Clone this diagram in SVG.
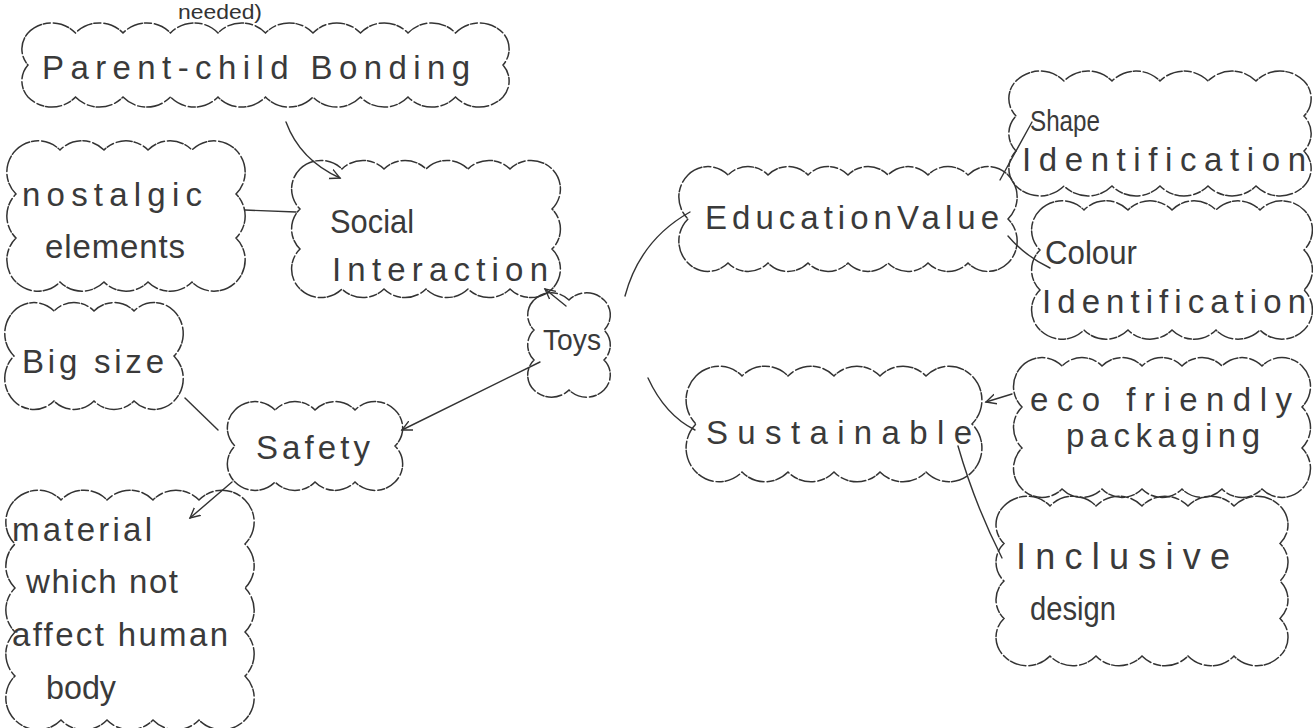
<svg xmlns="http://www.w3.org/2000/svg" width="1313" height="728" viewBox="0 0 1313 728">
<style>
.cloud{fill:none;stroke:#333;stroke-width:1.5;stroke-dasharray:16 2 7 3;stroke-linecap:round}
.lbl{font-family:"Liberation Sans",Arial,sans-serif;fill:#3a3a3a;font-size:33px}
.conn{fill:none;stroke:#333;stroke-width:1.4;stroke-linecap:round}
</style>
<defs>
<marker id="ah" markerWidth="14" markerHeight="14" refX="10" refY="6" orient="auto" markerUnits="userSpaceOnUse">
<path d="M0,1 L10,6 L0,11" fill="none" stroke="#333" stroke-width="1.4"/>
</marker>
</defs>
<rect width="1313" height="728" fill="#ffffff"/>
<text x="178" y="19" textLength="84" lengthAdjust="spacingAndGlyphs" style="font-family:'Liberation Sans',Arial,sans-serif;font-size:20px;fill:#333">needed)</text>

<g id="connectors">
<path class="conn" d="M286,122 Q300,160 340,178" marker-end="url(#ah)"/>
<path class="conn" d="M245,210 L296,212"/>
<path class="conn" d="M566,306 L545,289" marker-end="url(#ah)"/>
<path class="conn" d="M625,296 Q640,240 690,212"/>
<path class="conn" d="M1000,180 L1032,122"/>
<path class="conn" d="M1008,236 Q1025,256 1050,268"/>
<path class="conn" d="M648,378 Q665,415 695,430"/>
<path class="conn" d="M1012,394 L986,402" marker-end="url(#ah)"/>
<path class="conn" d="M958,446 Q975,505 1002,558"/>
<path class="conn" d="M540,362 L402,430" marker-end="url(#ah)"/>
<path class="conn" d="M185,398 L218,430"/>
<path class="conn" d="M232,482 L190,518" marker-end="url(#ah)"/>
</g>

<g id="parent-child">
<path class="cloud" d="M28,33 a33 33 0 0 1 47.5 0 a33 33 0 0 1 47.5 0 a33 33 0 0 1 47.5 0 a33 33 0 0 1 47.5 0 a33 33 0 0 1 47.5 0 a33 33 0 0 1 47.5 0 a33 33 0 0 1 47.5 0 a33 33 0 0 1 47.5 0 a33 33 0 0 1 47.5 0 a33 33 0 0 1 47.5 0 a24 24 0 0 1 0 32 a24 24 0 0 1 0 32 a33 33 0 0 1 -47.5 0 a33 33 0 0 1 -47.5 0 a33 33 0 0 1 -47.5 0 a33 33 0 0 1 -47.5 0 a33 33 0 0 1 -47.5 0 a33 33 0 0 1 -47.5 0 a33 33 0 0 1 -47.5 0 a33 33 0 0 1 -47.5 0 a33 33 0 0 1 -47.5 0 a33 33 0 0 1 -47.5 0 a24 24 0 0 1 0 -32 a24 24 0 0 1 0 -32 Z"/>
<text class="lbl" x="42" y="79" textLength="428" lengthAdjust="spacing">Parent-child Bonding</text>
</g>

<g id="nostalgic">
<path class="cloud" d="M16,150 a31 31 0 0 1 44 0 a31 31 0 0 1 44 0 a31 31 0 0 1 44 0 a31 31 0 0 1 44 0 a31 31 0 0 1 44 0 a31 31 0 0 1 0 44 a31 31 0 0 1 0 44 a31 31 0 0 1 0 44 a31 31 0 0 1 -44 0 a31 31 0 0 1 -44 0 a31 31 0 0 1 -44 0 a31 31 0 0 1 -44 0 a31 31 0 0 1 -44 0 a31 31 0 0 1 0 -44 a31 31 0 0 1 0 -44 a31 31 0 0 1 0 -44 Z"/>
<text class="lbl" x="22" y="206" textLength="180" lengthAdjust="spacing">nostalgic</text>
<text class="lbl" x="45" y="258" textLength="140" lengthAdjust="spacing">elements</text>
</g>

<g id="social">
<path class="cloud" d="M300,169 a30 30 0 0 1 42 0 a30 30 0 0 1 42 0 a30 30 0 0 1 42 0 a30 30 0 0 1 42 0 a30 30 0 0 1 42 0 a30 30 0 0 1 42 0 a28 28 0 0 1 0 40 a28 28 0 0 1 0 40 a28 28 0 0 1 0 40 a30 30 0 0 1 -42 0 a30 30 0 0 1 -42 0 a30 30 0 0 1 -42 0 a30 30 0 0 1 -42 0 a30 30 0 0 1 -42 0 a30 30 0 0 1 -42 0 a28 28 0 0 1 0 -40 a28 28 0 0 1 0 -40 a28 28 0 0 1 0 -40 Z"/>
<text class="lbl" x="330" y="233" textLength="84" lengthAdjust="spacingAndGlyphs">Social</text>
<text class="lbl" x="332" y="281" textLength="216" lengthAdjust="spacing">Interaction</text>
</g>

<g id="toys">
<path class="cloud" d="M534,300 a25 25 0 0 1 35 0 a25 25 0 0 1 35 0 a21 21 0 0 1 0 30 a21 21 0 0 1 0 30 a21 21 0 0 1 0 30 a25 25 0 0 1 -35 0 a25 25 0 0 1 -35 0 a21 21 0 0 1 0 -30 a21 21 0 0 1 0 -30 a21 21 0 0 1 0 -30 Z"/>
<text class="lbl" x="543" y="350" textLength="58" lengthAdjust="spacingAndGlyphs" style="font-size:30px">Toys</text>
</g>

<g id="education">
<path class="cloud" d="M688,175 a28 28 0 0 1 40 0 a28 28 0 0 1 40 0 a28 28 0 0 1 40 0 a28 28 0 0 1 40 0 a28 28 0 0 1 40 0 a28 28 0 0 1 40 0 a28 28 0 0 1 40 0 a28 28 0 0 1 40 0 a31 31 0 0 1 0 44 a31 31 0 0 1 0 44 a28 28 0 0 1 -40 0 a28 28 0 0 1 -40 0 a28 28 0 0 1 -40 0 a28 28 0 0 1 -40 0 a28 28 0 0 1 -40 0 a28 28 0 0 1 -40 0 a28 28 0 0 1 -40 0 a28 28 0 0 1 -40 0 a31 31 0 0 1 0 -44 a31 31 0 0 1 0 -44 Z"/>
<text class="lbl" x="705" y="229" textLength="294" lengthAdjust="spacing">EducationValue</text>
</g>

<g id="shape">
<path class="cloud" d="M1016,81 a34 34 0 0 1 48 0 a34 34 0 0 1 48 0 a34 34 0 0 1 48 0 a34 34 0 0 1 48 0 a34 34 0 0 1 48 0 a34 34 0 0 1 48 0 a25 25 0 0 1 0 35 a25 25 0 0 1 0 35 a25 25 0 0 1 0 35 a34 34 0 0 1 -48 0 a34 34 0 0 1 -48 0 a34 34 0 0 1 -48 0 a34 34 0 0 1 -48 0 a34 34 0 0 1 -48 0 a34 34 0 0 1 -48 0 a25 25 0 0 1 0 -35 a25 25 0 0 1 0 -35 a25 25 0 0 1 0 -35 Z"/>
<text class="lbl" x="1030" y="131" textLength="70" lengthAdjust="spacingAndGlyphs" style="font-size:30px">Shape</text>
<text class="lbl" x="1022" y="171" textLength="284" lengthAdjust="spacing">Identification</text>
</g>

<g id="colour">
<path class="cloud" d="M1040,210 a31 31 0 0 1 44 0 a31 31 0 0 1 44 0 a31 31 0 0 1 44 0 a31 31 0 0 1 44 0 a31 31 0 0 1 44 0 a31 31 0 0 1 44 0 a28 28 0 0 1 0 40 a28 28 0 0 1 0 40 a28 28 0 0 1 0 40 a31 31 0 0 1 -44 0 a31 31 0 0 1 -44 0 a31 31 0 0 1 -44 0 a31 31 0 0 1 -44 0 a31 31 0 0 1 -44 0 a31 31 0 0 1 -44 0 a28 28 0 0 1 0 -40 a28 28 0 0 1 0 -40 a28 28 0 0 1 0 -40 Z"/>
<text class="lbl" x="1045" y="264" textLength="92" lengthAdjust="spacingAndGlyphs">Colour</text>
<text class="lbl" x="1042" y="313" textLength="264" lengthAdjust="spacing">Identification</text>
</g>

<g id="sustainable">
<path class="cloud" d="M696,376 a32 32 0 0 1 46 0 a32 32 0 0 1 46 0 a32 32 0 0 1 46 0 a32 32 0 0 1 46 0 a32 32 0 0 1 46 0 a32 32 0 0 1 46 0 a34 34 0 0 1 0 48 a34 34 0 0 1 0 48 a32 32 0 0 1 -46 0 a32 32 0 0 1 -46 0 a32 32 0 0 1 -46 0 a32 32 0 0 1 -46 0 a32 32 0 0 1 -46 0 a32 32 0 0 1 -46 0 a34 34 0 0 1 0 -48 a34 34 0 0 1 0 -48 Z"/>
<text class="lbl" x="706" y="444" textLength="266" lengthAdjust="spacing">Sustainable</text>
</g>

<g id="eco">
<path class="cloud" d="M1022,366 a28 28 0 0 1 40 0 a28 28 0 0 1 40 0 a28 28 0 0 1 40 0 a28 28 0 0 1 40 0 a28 28 0 0 1 40 0 a28 28 0 0 1 40 0 a28 28 0 0 1 40 0 a29 29 0 0 1 0 41 a29 29 0 0 1 0 41 a29 29 0 0 1 0 41 a28 28 0 0 1 -40 0 a28 28 0 0 1 -40 0 a28 28 0 0 1 -40 0 a28 28 0 0 1 -40 0 a28 28 0 0 1 -40 0 a28 28 0 0 1 -40 0 a28 28 0 0 1 -40 0 a29 29 0 0 1 0 -41 a29 29 0 0 1 0 -41 a29 29 0 0 1 0 -41 Z"/>
<text class="lbl" x="1030" y="411" textLength="262" lengthAdjust="spacing">eco friendly</text>
<text class="lbl" x="1066" y="447" textLength="194" lengthAdjust="spacing">packaging</text>
</g>

<g id="inclusive">
<path class="cloud" d="M1004,506 a32 32 0 0 1 46 0 a32 32 0 0 1 46 0 a32 32 0 0 1 46 0 a32 32 0 0 1 46 0 a32 32 0 0 1 46 0 a32 32 0 0 1 46 0 a26 26 0 0 1 0 37.5 a26 26 0 0 1 0 37.5 a26 26 0 0 1 0 37.5 a26 26 0 0 1 0 37.5 a32 32 0 0 1 -46 0 a32 32 0 0 1 -46 0 a32 32 0 0 1 -46 0 a32 32 0 0 1 -46 0 a32 32 0 0 1 -46 0 a32 32 0 0 1 -46 0 a26 26 0 0 1 0 -37.5 a26 26 0 0 1 0 -37.5 a26 26 0 0 1 0 -37.5 a26 26 0 0 1 0 -37.5 Z"/>
<text class="lbl" x="1016" y="569" textLength="214" lengthAdjust="spacing" style="font-size:36px">Inclusive</text>
<text class="lbl" x="1030" y="620" textLength="86" lengthAdjust="spacingAndGlyphs">design</text>
</g>

<g id="bigsize">
<path class="cloud" d="M14,311 a28 28 0 0 1 40 0 a28 28 0 0 1 40 0 a28 28 0 0 1 40 0 a28 28 0 0 1 40 0 a32 32 0 0 1 0 45 a32 32 0 0 1 0 45 a28 28 0 0 1 -40 0 a28 28 0 0 1 -40 0 a28 28 0 0 1 -40 0 a28 28 0 0 1 -40 0 a32 32 0 0 1 0 -45 a32 32 0 0 1 0 -45 Z"/>
<text class="lbl" x="22" y="373" textLength="142" lengthAdjust="spacing">Big size</text>
</g>

<g id="safety">
<path class="cloud" d="M235,410 a28 28 0 0 1 40 0 a28 28 0 0 1 40 0 a28 28 0 0 1 40 0 a28 28 0 0 1 40 0 a25 25 0 0 1 0 36 a25 25 0 0 1 0 36 a28 28 0 0 1 -40 0 a28 28 0 0 1 -40 0 a28 28 0 0 1 -40 0 a28 28 0 0 1 -40 0 a25 25 0 0 1 0 -36 a25 25 0 0 1 0 -36 Z"/>
<text class="lbl" x="256" y="459" textLength="114" lengthAdjust="spacing">Safety</text>
</g>

<g id="material">
<path class="cloud" d="M15,500 a32 32 0 0 1 46 0 a32 32 0 0 1 46 0 a32 32 0 0 1 46 0 a32 32 0 0 1 46 0 a32 32 0 0 1 46 0 a31 31 0 0 1 0 44 a31 31 0 0 1 0 44 a31 31 0 0 1 0 44 a31 31 0 0 1 0 44 a31 31 0 0 1 0 44 a32 32 0 0 1 -46 0 a32 32 0 0 1 -46 0 a32 32 0 0 1 -46 0 a32 32 0 0 1 -46 0 a32 32 0 0 1 -46 0 a31 31 0 0 1 0 -44 a31 31 0 0 1 0 -44 a31 31 0 0 1 0 -44 a31 31 0 0 1 0 -44 a31 31 0 0 1 0 -44 Z"/>
<text class="lbl" x="12" y="541" textLength="140" lengthAdjust="spacing">material</text>
<text class="lbl" x="26" y="593" textLength="152" lengthAdjust="spacing">which not</text>
<text class="lbl" x="12" y="646" textLength="216" lengthAdjust="spacing">affect human</text>
<text class="lbl" x="46" y="699" textLength="70" lengthAdjust="spacingAndGlyphs">body</text>
</g>
</svg>
